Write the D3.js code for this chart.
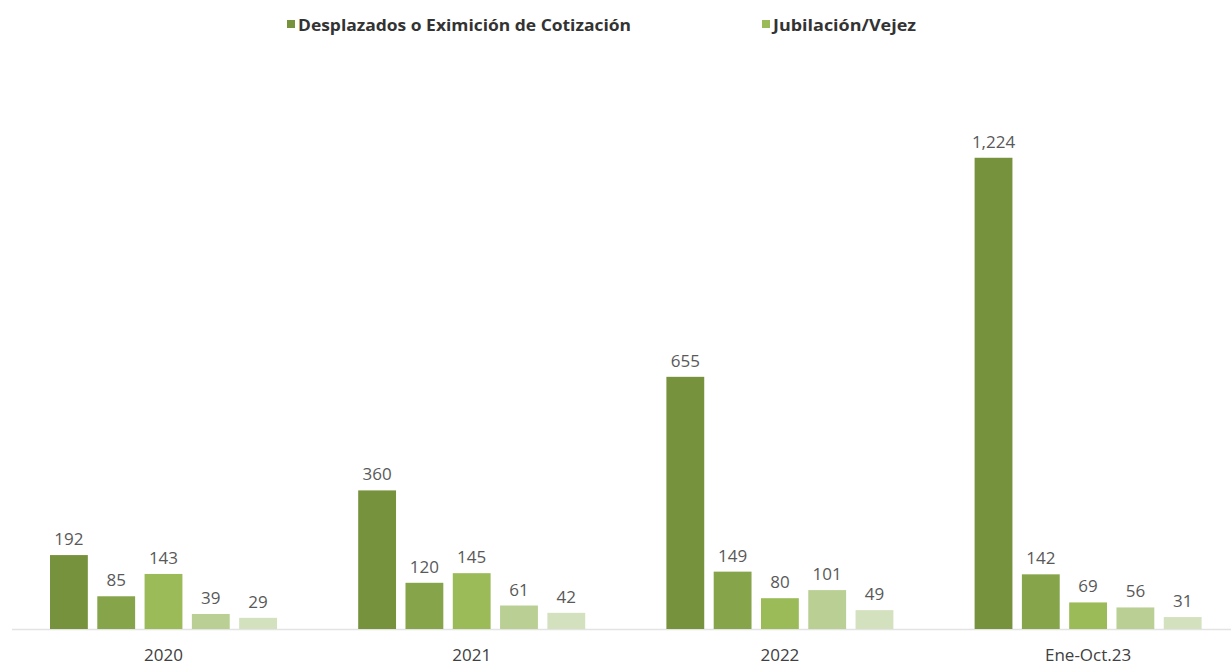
<!DOCTYPE html>
<html>
<head>
<meta charset="utf-8">
<script src="https://cdn.jsdelivr.net/npm/d3@7"></script>
<style>
  body { margin: 0; background: #fff; }
  svg { display: block; font-family: "Open Sans", sans-serif; }
</style>
</head>
<body>
<svg></svg>
<script>
const svgWidth = 1231
const svgHeight = 666

// data
const periods = ["2020", "2021", "2022", "Ene-Oct.23"]
const seriesKeys = ["s1", "s2", "s3", "s4", "s5"]
const s1 = [192, 360, 655, 1224]
const s2 = [85, 120, 149, 142]
const s3 = [143, 145, 80, 69]
const s4 = [39, 61, 101, 56]
const s5 = [29, 42, 49, 31]
const seriesValues = [s1, s2, s3, s4, s5]
const colors = ["#76923c", "#86a54a", "#9bbb59", "#b9cf93", "#d3e1bf"]
const legendLabels = ["Desplazados o Eximición de Cotización", "Jubilación/Vejez"]
const legendSeries = [0, 2]

const baseY = 629

const svg = d3.select("svg")
    .attr("width", svgWidth)
    .attr("height", svgHeight)

const rows = periods.map((p, i) => {
    return { period: p, values: seriesValues.map((vals, j) => ({ key: seriesKeys[j], idx: j, value: vals[i] })) }
})

const x0 = d3.scaleBand()
    .domain(periods)
    .range([9.4, 1242.2])
    .padding(0)

const x1 = d3.scaleBand()
    .domain(seriesKeys)
    .range([40.6, 267.6])
    .paddingInner(0.2)
    .paddingOuter(0)

const yScale = d3.scaleLinear()
    .domain([0, 1400])
    .range([baseY, 90])

// baseline
svg.append("line")
    .attr("x1", 12)
    .attr("x2", svgWidth)
    .attr("y1", baseY + 0.5)
    .attr("y2", baseY + 0.5)
    .attr("stroke", "#e3e3e3")
    .attr("stroke-width", 1.5)

const groups = svg.selectAll(".grp")
    .data(rows)
    .join("g")
    .attr("class", "grp")
    .attr("transform", (d) => `translate(${x0(d.period)},0)`)

groups.selectAll("rect")
    .data((d) => d.values)
    .join("rect")
    .attr("x", (d) => x1(d.key))
    .attr("y", (d) => yScale(d.value))
    .attr("width", x1.bandwidth())
    .attr("height", (d) => baseY - yScale(d.value))
    .attr("fill", (d) => colors[d.idx])

groups.selectAll("text.val")
    .data((d) => d.values)
    .join("text")
    .attr("class", "val")
    .attr("x", (d) => x1(d.key) + x1.bandwidth() / 2)
    .attr("y", (d) => yScale(d.value) - 10)
    .attr("text-anchor", "middle")
    .attr("font-size", 17)
    .attr("fill", "#595959")
    .text((d) => d3.format(",")(d.value))

// category labels
svg.append("g")
    .selectAll("text")
    .data(periods)
    .join("text")
    .attr("x", (d) => x0(d) + x1.range()[0] + (x1.range()[1] - x1.range()[0]) / 2)
    .attr("y", 661)
    .attr("text-anchor", "middle")
    .attr("font-size", 17)
    .attr("fill", "#404040")
    .text((d) => d)

// legend
const legendX = [287, 762]
const legendLen = [333, 143]
const legend = svg.append("g")
legendLabels.forEach((label, i) => {
    legend.append("rect")
        .attr("x", legendX[i])
        .attr("y", 20)
        .attr("width", 8)
        .attr("height", 8)
        .attr("fill", colors[legendSeries[i]])
    legend.append("text")
        .attr("x", legendX[i] + 11)
        .attr("y", 31)
        .attr("font-size", 16)
        .attr("font-weight", "bold")
        .attr("fill", "#333")
        .attr("textLength", legendLen[i])
        .attr("lengthAdjust", "spacingAndGlyphs")
        .text(label)
})
</script>
</body>
</html>
